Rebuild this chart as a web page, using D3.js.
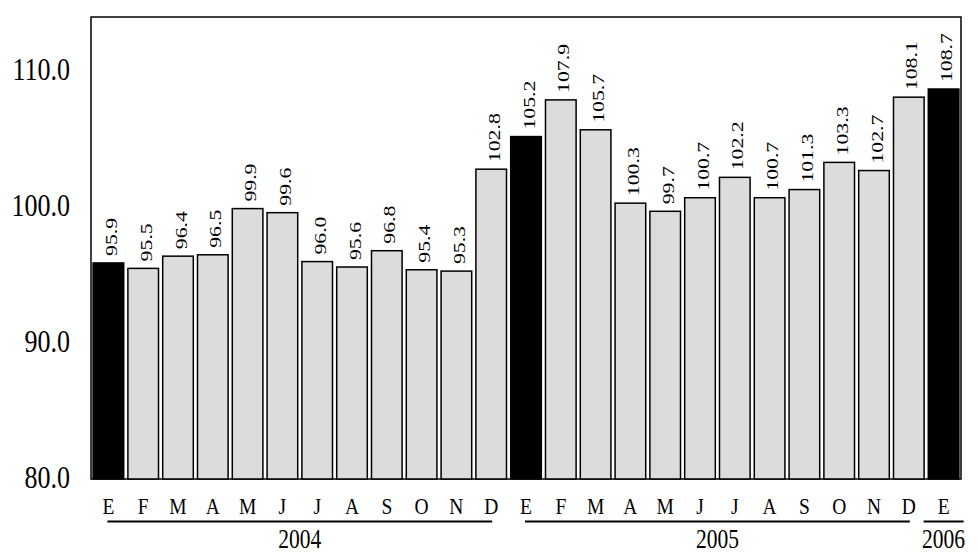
<!DOCTYPE html>
<html>
<head>
<meta charset="utf-8">
<script src="https://cdn.jsdelivr.net/npm/d3@7"></script>
<style>
  body { margin: 0; background: #fff; }
  svg text { font-family: "Liberation Serif", "Times New Roman", serif; fill: #000; }
</style>
</head>
<body>
<div id="grafica"></div>
<script>
// datos
const meses = ["E", "F", "M", "A", "M", "J", "J", "A", "S", "O", "N", "D",
               "E", "F", "M", "A", "M", "J", "J", "A", "S", "O", "N", "D",
               "E"];
const valores = [95.9, 95.5, 96.4, 96.5, 99.9, 99.6, 96.0, 95.6, 96.8, 95.4, 95.3, 102.8,
                 105.2, 107.9, 105.7, 100.3, 99.7, 100.7, 102.2, 100.7, 101.3, 103.3, 102.7, 108.1,
                 108.7];
const anios = ["2004", "2005", "2006"];
const mesesPorAnio = [12, 12, 1];
const ticksY = [80, 90, 100, 110];

const width = 977, height = 554;
const margin = { top: 17, right: 16, bottom: 75, left: 91 };
const estira = 1.23; // el texto sale algo alargado en vertical

const svg = d3.select("#grafica")
  .append("svg")
  .attr("width", width)
  .attr("height", height);

const x = d3.scaleBand()
  .domain(valores.map((d, i) => i))
  .range([margin.left, width - margin.right])
  .paddingInner(0.12)
  .paddingOuter(0.06);

const y = d3.scaleLinear()
  .domain([80, 114])
  .range([height - margin.bottom, margin.top]);

// marco
svg.append("rect")
  .attr("x", margin.left)
  .attr("y", margin.top)
  .attr("width", width - margin.left - margin.right)
  .attr("height", height - margin.top - margin.bottom)
  .attr("fill", "none")
  .attr("stroke", "#000")
  .attr("stroke-width", 1.5);

// barras
svg.selectAll("rect.barra")
  .data(valores)
  .enter()
  .append("rect")
  .attr("class", "barra")
  .attr("x", (d, i) => x(i))
  .attr("y", (d) => y(d))
  .attr("width", x.bandwidth())
  .attr("height", (d) => y(80) - y(d))
  .attr("fill", (d, i) => (meses[i] === "E" ? "#000" : "#dcdcdc"))
  .attr("stroke", "#000")
  .attr("stroke-width", 1.5);

// etiquetas de valor (giradas -90 y estiradas en vertical)
svg.selectAll("text.valor")
  .data(valores)
  .enter()
  .append("text")
  .attr("class", "valor")
  .attr("transform", (d, i) =>
    "matrix(0," + (-estira) + ",1,0," + (x(i) + x.bandwidth() / 2 + 8.5) + "," + (y(d) - 7) + ")")
  .attr("font-size", "17.7px")
  .attr("text-anchor", "start")
  .text((d) => d.toFixed(1));

// eje y
svg.selectAll("text.tick")
  .data(ticksY)
  .enter()
  .append("text")
  .attr("class", "tick")
  .attr("transform", (d) => "translate(70," + (y(d) + 9) + ") scale(1," + estira + ")")
  .attr("font-size", "26px")
  .attr("text-anchor", "end")
  .text((d) => d.toFixed(1));

// meses
svg.selectAll("text.mes")
  .data(meses)
  .enter()
  .append("text")
  .attr("class", "mes")
  .attr("transform", (d, i) => "translate(" + (x(i) + x.bandwidth() / 2) + ",514) scale(1," + estira + ")")
  .attr("font-size", "19.5px")
  .attr("text-anchor", "middle")
  .text((d) => d);

// años con su raya
let inicio = 0;
anios.forEach((a, k) => {
  const n = mesesPorAnio[k];
  const c1 = x(inicio) + x.bandwidth() / 2;
  const c2 = x(inicio + n - 1) + x.bandwidth() / 2;
  const extra = n === 1 ? 20 : 1;
  svg.append("line")
    .attr("x1", c1 - extra)
    .attr("x2", c2 + extra)
    .attr("y1", 521.5)
    .attr("y2", 521.5)
    .attr("stroke", "#000")
    .attr("stroke-width", 2);
  svg.append("text")
    .attr("transform", "translate(" + (c1 + c2) / 2 + ",548) scale(1," + estira + ")")
    .attr("font-size", "21.5px")
    .attr("text-anchor", "middle")
    .text(a);
  inicio += n;
});
</script>
</body>
</html>
